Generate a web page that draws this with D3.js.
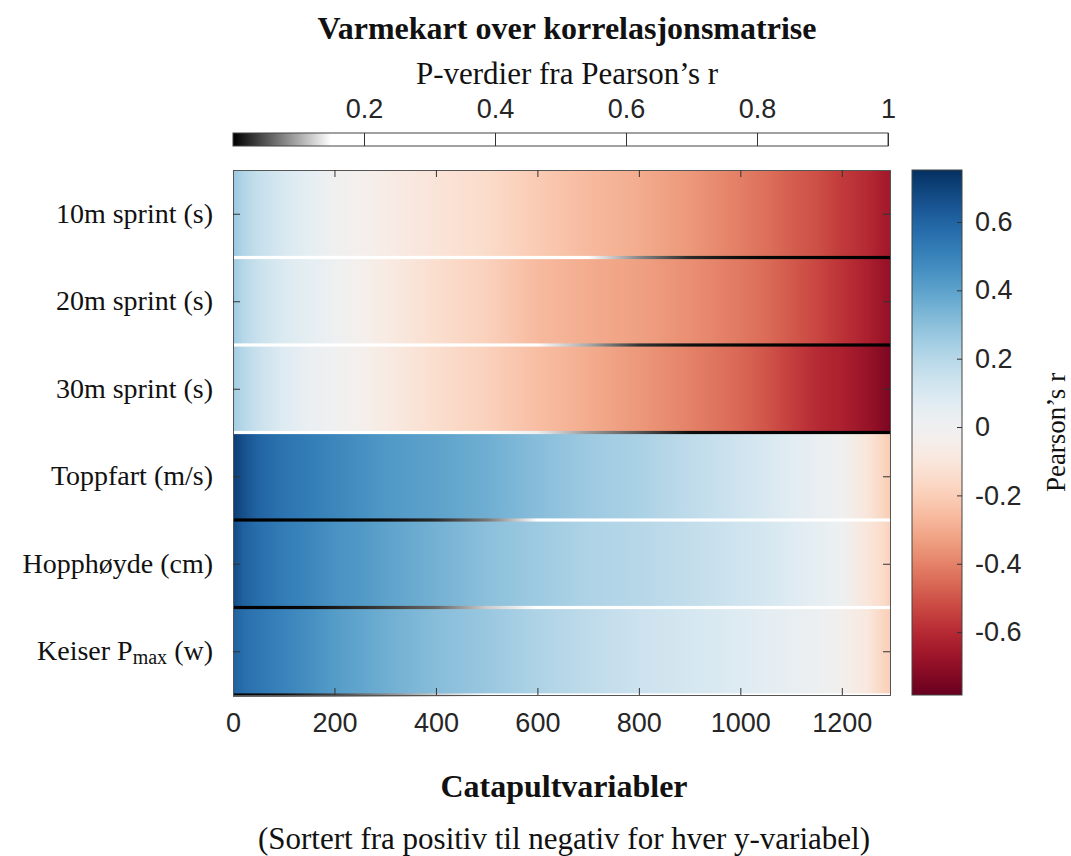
<!DOCTYPE html>
<html>
<head>
<meta charset="utf-8">
<script src="https://d3js.org/d3.v7.min.js"></script>
<style>
    body { margin: 0; background: #ffffff; }
    .serif { font-family: "Liberation Serif", "Times New Roman", serif; fill: #111111; }
    .sans { font-family: "Liberation Sans", Arial, sans-serif; fill: #262626; }
</style>
</head>
<body>
<svg id="chart" width="1071" height="856"></svg>
<script>

// number of catapult variables along the x axis
var nVariables = 1295;

var sampleIndex = [0, 20, 50, 100, 150, 200, 250, 300, 400, 500, 600, 700,
    800, 900, 1000, 1050, 1100, 1150, 1200, 1250, 1280, 1295];

// y variables
var rowNames = ["10m sprint (s)", "20m sprint (s)", "30m sprint (s)",
    "Toppfart (m/s)", "Hopphøyde (cm)", "Keiser Pmax (w)"];

// Pearson's r, sorted from positive to negative, one list per y variable
var rSprint10 = [0.27, 0.21, 0.16, 0.10, 0.05, 0.00, -0.03, -0.06, -0.11, -0.15, -0.21,
    -0.26, -0.30, -0.35, -0.41, -0.44, -0.48, -0.51, -0.56, -0.60, -0.64, -0.66];
var rSprint20 = [0.26, 0.20, 0.15, 0.09, 0.05, 0.01, -0.03, -0.07, -0.14, -0.19, -0.26,
    -0.30, -0.33, -0.37, -0.42, -0.45, -0.49, -0.53, -0.58, -0.63, -0.67, -0.69];
var rSprint30 = [0.25, 0.20, 0.15, 0.08, 0.03, 0.00, -0.03, -0.07, -0.14, -0.19, -0.25,
    -0.30, -0.35, -0.40, -0.46, -0.50, -0.55, -0.60, -0.63, -0.68, -0.72, -0.74];
var rToppfart = [0.72, 0.66, 0.60, 0.55, 0.52, 0.49, 0.46, 0.43, 0.40, 0.36, 0.31,
    0.26, 0.23, 0.18, 0.13, 0.10, 0.07, 0.04, 0.00, -0.10, -0.17, -0.21];
var rHopp = [0.68, 0.61, 0.57, 0.52, 0.49, 0.45, 0.43, 0.40, 0.35, 0.30, 0.26,
    0.22, 0.20, 0.17, 0.13, 0.11, 0.08, 0.05, 0.01, -0.10, -0.15, -0.19];
var rKeiser = [0.61, 0.57, 0.54, 0.50, 0.46, 0.42, 0.39, 0.36, 0.31, 0.27, 0.22,
    0.18, 0.14, 0.11, 0.08, 0.06, 0.04, 0.02, -0.02, -0.09, -0.17, -0.20];

// p-values belonging to the same variables
var pSprint10 = [0.18, 0.30, 0.45, 0.62, 0.80, 0.98, 0.90, 0.78, 0.60, 0.45, 0.30,
    0.17, 0.08, 0.025, 0.008, 0.004, 0.002, 0.001, 0.0006, 0.0003, 0.0002, 0.0001];
var pSprint20 = [0.18, 0.30, 0.45, 0.65, 0.85, 0.97, 0.88, 0.75, 0.55, 0.35, 0.16,
    0.10, 0.03, 0.01, 0.004, 0.002, 0.001, 0.0006, 0.0003, 0.0002, 0.0001, 0.0001];
var pSprint30 = [0.20, 0.32, 0.50, 0.70, 0.90, 0.99, 0.88, 0.75, 0.55, 0.35, 0.14,
    0.09, 0.05, 0.008, 0.003, 0.002, 0.001, 0.0005, 0.0003, 0.0001, 0.0001, 0.0001];
var pToppfart = [0.0001, 0.0001, 0.0002, 0.0005, 0.001, 0.002, 0.004, 0.007, 0.025, 0.07, 0.16,
    0.25, 0.33, 0.42, 0.55, 0.62, 0.70, 0.80, 0.95, 0.70, 0.50, 0.42];
var pHopp = [0.0002, 0.0005, 0.001, 0.003, 0.006, 0.015, 0.025, 0.035, 0.06, 0.12, 0.20,
    0.28, 0.35, 0.42, 0.50, 0.58, 0.68, 0.80, 0.97, 0.70, 0.55, 0.45];
var pKeiser = [0.002, 0.003, 0.005, 0.01, 0.025, 0.04, 0.06, 0.08, 0.12, 0.18, 0.25,
    0.35, 0.45, 0.55, 0.65, 0.70, 0.80, 0.88, 0.92, 0.70, 0.50, 0.42];

var rRows = [rSprint10, rSprint20, rSprint30, rToppfart, rHopp, rKeiser];
var pRows = [pSprint10, pSprint20, pSprint30, pToppfart, pHopp, pKeiser];

// tick labels
var xTicks = [0, 200, 400, 600, 800, 1000, 1200];
var pTicks = [0.2, 0.4, 0.6, 0.8, 1];
var rTicks = [-0.6, -0.4, -0.2, 0, 0.2, 0.4, 0.6];
var rLimits = [-0.784, 0.752];

// plot area
var plot = { left: 233, right: 890, top: 170, bottom: 695 };

var svg = d3.select("#chart");
var defs = svg.append("defs");

// scales
var x = d3.scaleLinear().domain([0, nVariables]).range([plot.left, plot.right]);
var y = d3.scaleBand().domain(d3.range(rowNames.length)).range([plot.top, plot.bottom]);
var color = d3.scaleSequential(d3.interpolateRdBu).domain(rLimits);
var gray = d3.scaleLinear().domain([0, 0.15]).range(["#000000", "#ffffff"]).clamp(true);

// tick format like matlab: plain hyphen, no trailing zeros on whole numbers
function matlabFormat(d) {
    if (d === 0 || d === 1) return String(d);
    return d3.format(".1f")(d).replace("−", "-");
};

// make a horizontal gradient through the sampled variables
function addRowGradient(id, values, scale) {
    var grad = defs.append("linearGradient")
        .attr("id", id)
        .attr("gradientUnits", "userSpaceOnUse")
        .attr("x1", x(0)).attr("x2", x(nVariables))
        .attr("y1", 0).attr("y2", 0);
    grad.selectAll("stop")
        .data(values)
        .enter().append("stop")
        .attr("offset", function(d, i) { return (x(sampleIndex[i]) - x(0)) / (x(nVariables) - x(0)); })
        .attr("stop-color", function(d) { return scale(d); });
};

// draw the heatmap rows
function drawRows() {
    rRows.forEach(function(values, i) {
        addRowGradient("rowGrad" + i, values, color);
    });
    svg.append("g").selectAll("rect")
        .data(rRows)
        .enter().append("rect")
        .attr("x", x(0))
        .attr("width", x(nVariables) - x(0))
        .attr("y", function(d, i) { return y(i); })
        .attr("height", y.bandwidth())
        .attr("fill", function(d, i) { return "url(#rowGrad" + i + ")"; });
};

// draw the p-value line under each row
function drawPLines() {
    pRows.forEach(function(values, i) {
        addRowGradient("pGrad" + i, values, gray);
    });
    svg.append("g").selectAll("rect")
        .data(pRows)
        .enter().append("rect")
        .attr("x", x(0))
        .attr("width", x(nVariables) - x(0))
        .attr("y", function(d, i) { return y(i) + y.bandwidth() - 1.6; })
        .attr("height", 3.2)
        .attr("fill", function(d, i) { return "url(#pGrad" + i + ")"; });
};

// axes with inward ticks on all four sides
function drawAxes() {
    var xAxis = svg.append("g")
        .attr("transform", "translate(0," + plot.bottom + ")")
        .call(d3.axisBottom(x).tickValues(xTicks).tickSize(-7).tickPadding(18).tickFormat(d3.format("d")));
    xAxis.selectAll("text")
        .attr("class", "sans")
        .style("font-size", "27px");

    svg.append("g")
        .attr("transform", "translate(0," + plot.top + ")")
        .call(d3.axisTop(x).tickValues(xTicks).tickSize(-7).tickFormat(""));

    var rowCenter = d3.scaleLinear().domain([0, rowNames.length]).range([plot.top, plot.bottom]);
    var rowTicks = d3.range(rowNames.length).map(function(i) { return i + 0.5; });
    svg.append("g")
        .attr("transform", "translate(" + plot.left + ",0)")
        .call(d3.axisLeft(rowCenter).tickValues(rowTicks).tickSize(-7).tickFormat(""));
    svg.append("g")
        .attr("transform", "translate(" + plot.right + ",0)")
        .call(d3.axisRight(rowCenter).tickValues(rowTicks).tickSize(-7).tickFormat(""));

    svg.selectAll(".domain").attr("stroke", "#555555").attr("stroke-width", 1);
    svg.selectAll(".tick line").attr("stroke", "#333333").attr("stroke-width", 1);

    // row labels, Keiser has a subscript
    var labels = svg.append("g").selectAll("text")
        .data(rowNames)
        .enter().append("text")
        .attr("class", "serif")
        .attr("x", plot.left - 20)
        .attr("y", function(d, i) { return y(i) + y.bandwidth() / 2 + 9; })
        .attr("text-anchor", "end")
        .style("font-size", "28px");
    labels.each(function(d) {
        var t = d3.select(this);
        if (d.indexOf("Pmax") >= 0) {
            t.append("tspan").text("Keiser P");
            t.append("tspan").text("max").attr("dy", 4).style("font-size", "20px");
            t.append("tspan").text(" (w)").attr("dy", -4);
        }
        else {
            t.text(d);
        };
    });
};

// vertical colorbar for Pearson's r
function drawColorbar() {
    var bar = { left: 912, right: 962 };
    var yr = d3.scaleLinear().domain(rLimits).range([plot.bottom, plot.top]);
    var grad = defs.append("linearGradient")
        .attr("id", "rGrad")
        .attr("x1", 0).attr("x2", 0).attr("y1", 1).attr("y2", 0);
    grad.selectAll("stop")
        .data(d3.range(0, 1.0001, 0.02))
        .enter().append("stop")
        .attr("offset", function(d) { return d; })
        .attr("stop-color", function(d) { return color(rLimits[0] + d * (rLimits[1] - rLimits[0])); });

    svg.append("rect")
        .attr("x", bar.left).attr("y", plot.top)
        .attr("width", bar.right - bar.left).attr("height", plot.bottom - plot.top)
        .attr("fill", "url(#rGrad)")
        .attr("stroke", "#444444").attr("stroke-width", 1);

    var axis = svg.append("g")
        .attr("transform", "translate(" + bar.right + ",0)")
        .call(d3.axisRight(yr).tickValues(rTicks).tickSize(-5).tickPadding(13).tickFormat(matlabFormat));
    axis.select(".domain").remove();
    axis.selectAll(".tick line").attr("stroke", "#333333");
    axis.selectAll("text").attr("class", "sans").style("font-size", "27px");

    svg.append("text")
        .attr("class", "serif")
        .attr("transform", "translate(1065," + ((plot.top + plot.bottom) / 2) + ") rotate(-90)")
        .attr("text-anchor", "middle")
        .style("font-size", "27px")
        .text("Pearson’s r");
};

// horizontal grey colorbar for the p-values
function drawPColorbar() {
    var top = 133, h = 13;
    var xp = d3.scaleLinear().domain([0, 1]).range([plot.left, 888]);
    var grad = defs.append("linearGradient").attr("id", "pBarGrad");
    grad.selectAll("stop")
        .data(d3.range(0, 1.0001, 0.01))
        .enter().append("stop")
        .attr("offset", function(d) { return d; })
        .attr("stop-color", function(d) { return gray(d); });

    svg.append("rect")
        .attr("x", xp(0)).attr("y", top)
        .attr("width", xp(1) - xp(0)).attr("height", h)
        .attr("fill", "url(#pBarGrad)")
        .attr("stroke", "#444444").attr("stroke-width", 1);

    var axis = svg.append("g")
        .attr("transform", "translate(0," + top + ")")
        .call(d3.axisTop(xp).tickValues(pTicks).tickSize(-h).tickPadding(15).tickFormat(matlabFormat));
    axis.select(".domain").remove();
    axis.selectAll(".tick line").attr("stroke", "#333333");
    axis.selectAll("text").attr("class", "sans").style("font-size", "27px");

    svg.append("text")
        .attr("class", "serif")
        .attr("x", 567).attr("y", 84)
        .attr("text-anchor", "middle")
        .style("font-size", "31px")
        .text("P-verdier fra Pearson’s r");
};

// titles
function drawTitles() {
    svg.append("text")
        .attr("class", "serif")
        .attr("x", 567).attr("y", 39)
        .attr("text-anchor", "middle")
        .style("font-size", "32px").style("font-weight", "bold")
        .text("Varmekart over korrelasjonsmatrise");

    svg.append("text")
        .attr("class", "serif")
        .attr("x", 564).attr("y", 797)
        .attr("text-anchor", "middle")
        .style("font-size", "32px").style("font-weight", "bold")
        .text("Catapultvariabler");

    svg.append("text")
        .attr("class", "serif")
        .attr("x", 564).attr("y", 849)
        .attr("text-anchor", "middle")
        .style("font-size", "31px")
        .text("(Sortert fra positiv til negativ for hver y-variabel)");
};

drawRows();
drawPLines();
drawAxes();
drawColorbar();
drawPColorbar();
drawTitles();

</script>
</body>
</html>
